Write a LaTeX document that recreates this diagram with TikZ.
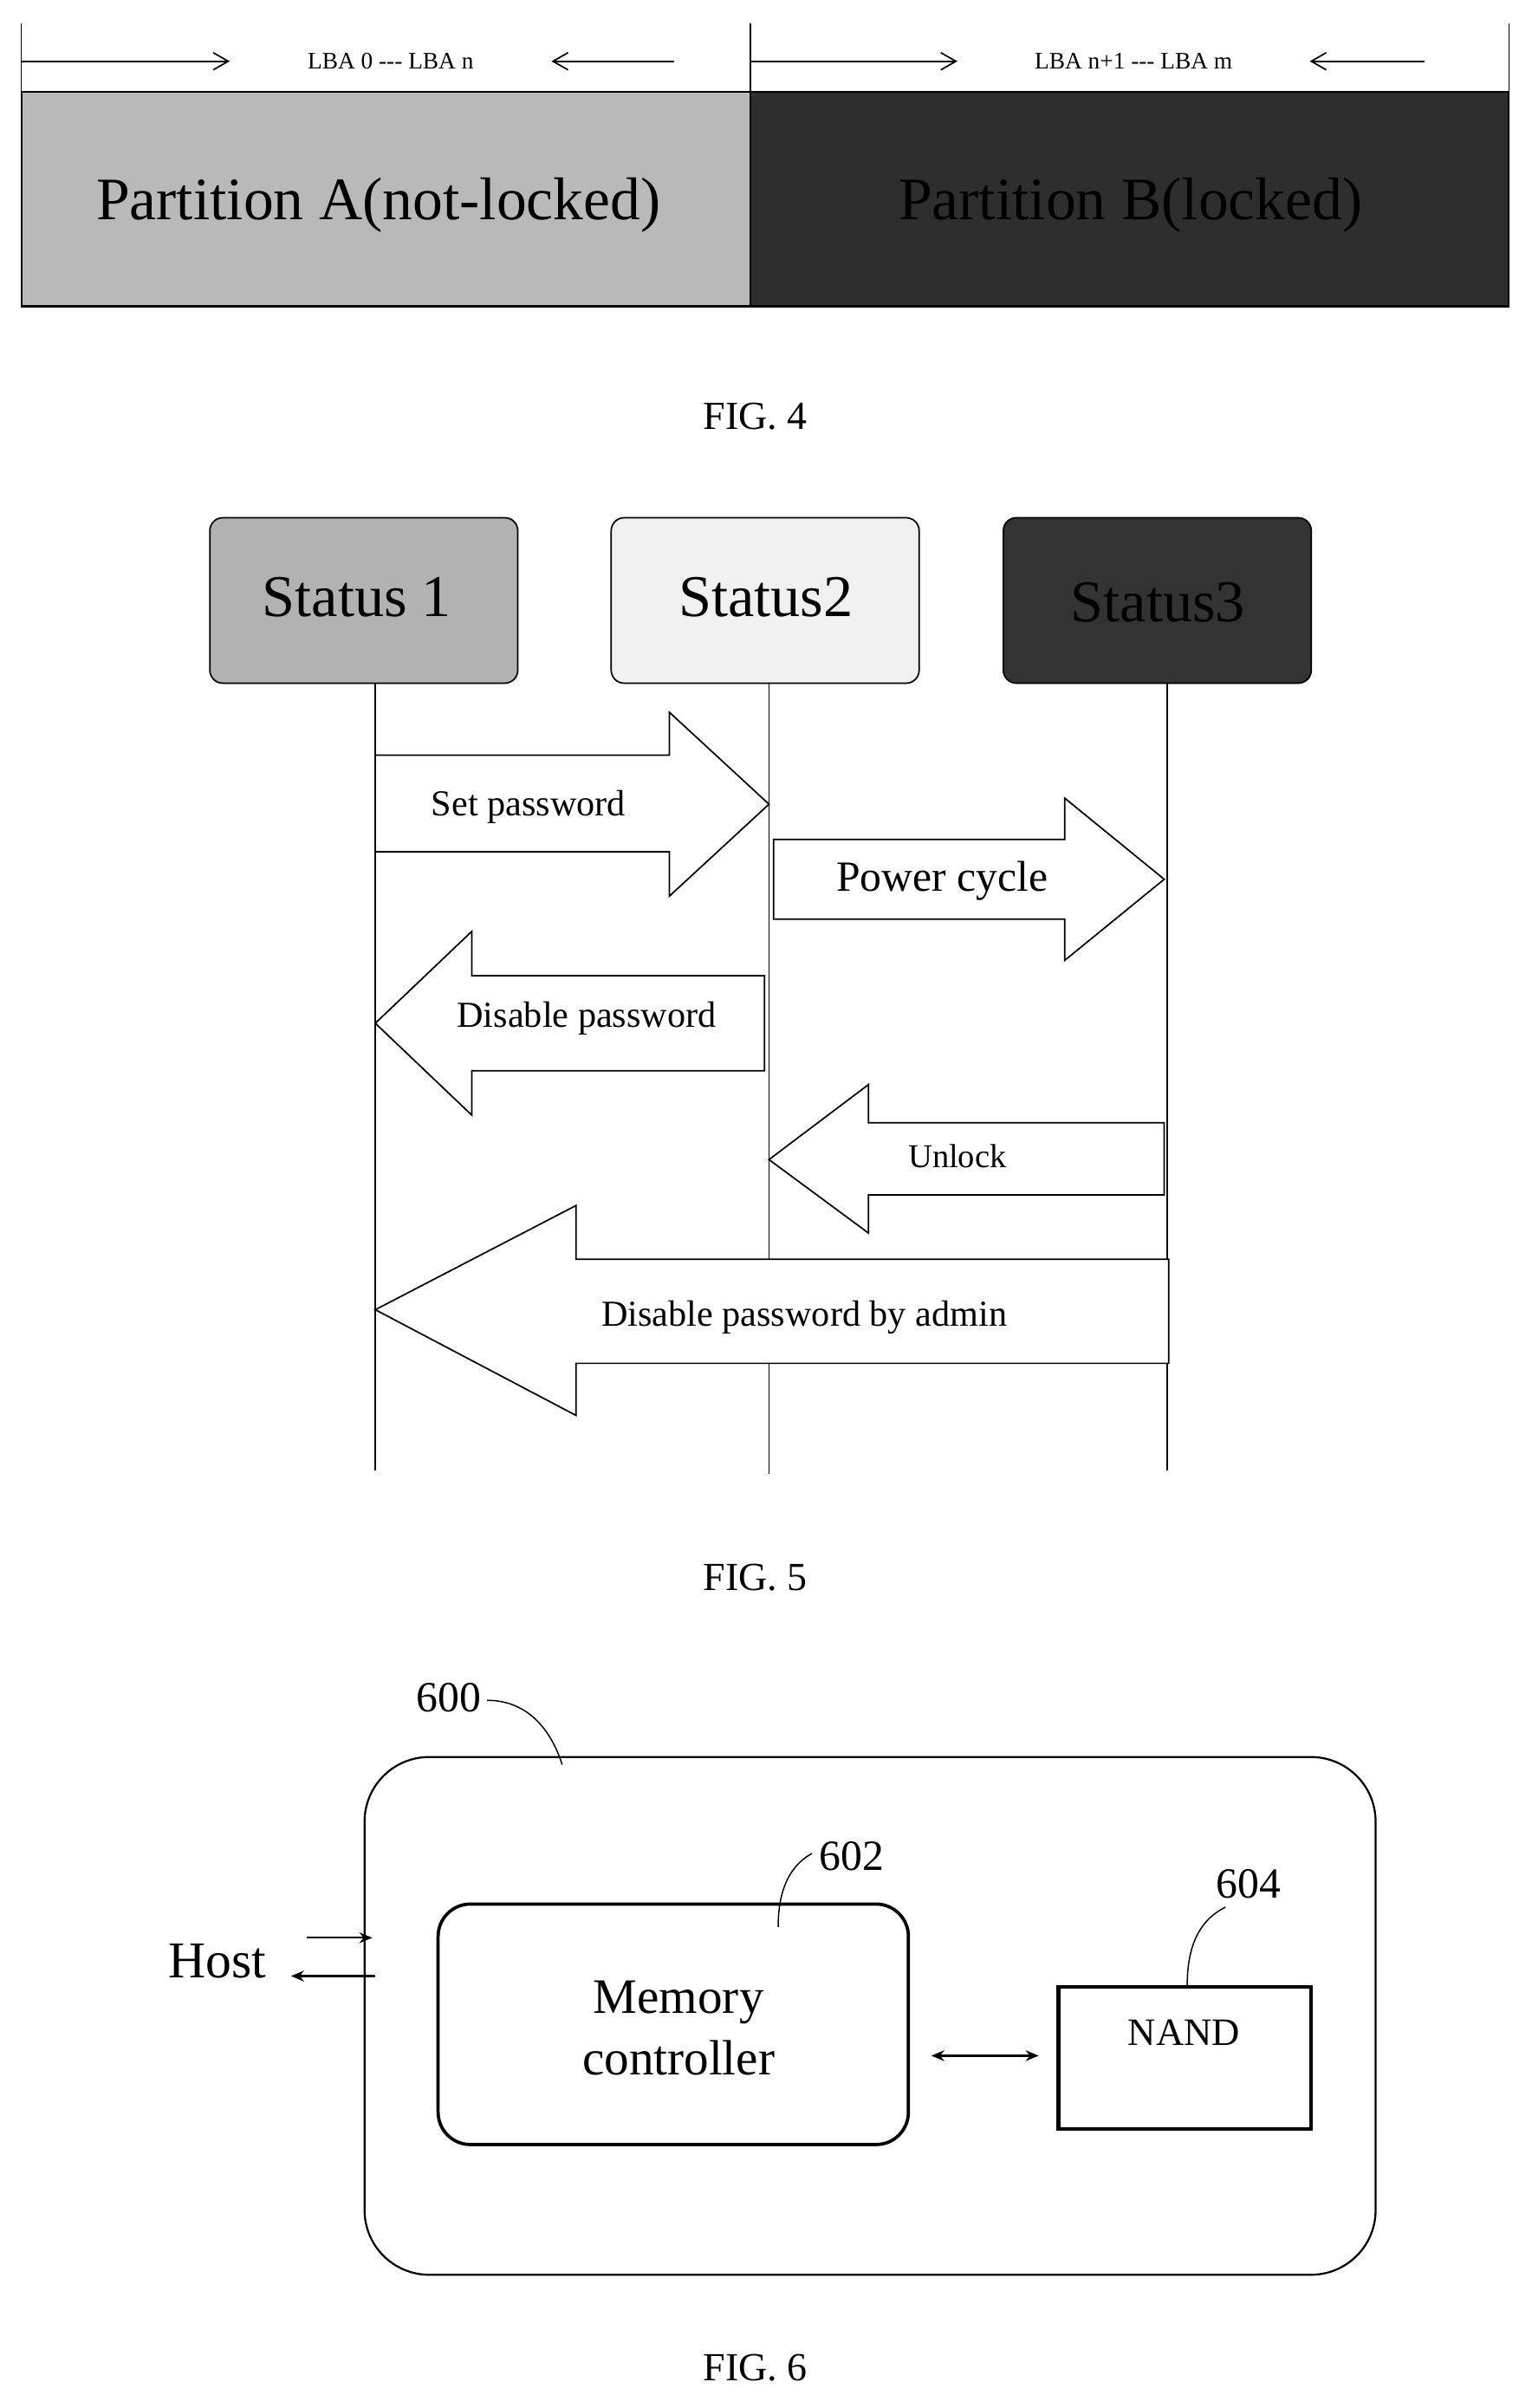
\documentclass[tikz,border=0pt]{standalone}
\usepackage{fontspec}
\setmainfont{Liberation Serif}
\usetikzlibrary{arrows.meta}
\begin{document}
\begin{tikzpicture}[x=0.05cm,y=-0.05cm,
  fs/.style={font=\fontsize{#1}{1.25\dimexpr#1pt\relax}\selectfont},
  thin/.style={line width=1.2pt},
  blk/.style={draw,line width=1.4pt,fill=white},
  sbox/.style={draw,line width=1.4pt,rounded corners=12pt},
  la/.style={-{Straight Barb[length=14pt,width=16pt]},line width=1.4pt}]
\useasboundingbox (0,0) rectangle (1000,1572);
% FIG 4
\fill[gray!55] (14,60) rectangle (490,200);
\fill[black!82] (490,60) rectangle (985,200);
\draw[line width=1.8pt] (14,60) rectangle (985,200) (490,60)--(490,200);
\foreach \x in {14,490,985} \draw[thin] (\x,15)--(\x,60);
\coordinate (a1) at (14,40); \coordinate (a2) at (150,40);
\coordinate (a3) at (440,40); \coordinate (a4) at (360,40);
\coordinate (b1) at (490,40); \coordinate (b2) at (625,40);
\coordinate (b3) at (930,40); \coordinate (b4) at (855,40);
\draw[la] (a1)--(a2); \draw[la] (a3)--(a4);
\draw[la] (b1)--(b2); \draw[la] (b3)--(b4);
\node[fs=22] (lba1) at (255,40) {LBA 0 -{}-{}- LBA n};
\node[fs=22] (lba2) at (740,40) {LBA n+1 -{}-{}- LBA m};
\node[fs=56] (pa) at (247,134) {Partition A(not-locked)};
\node[fs=56] (pb) at (738,134) {Partition B(locked)};
\node[fs=37] (f4) at (493,272) {FIG. 4};
% FIG 5
\draw[sbox,fill=gray!60] (137,338) rectangle (338,446);
\draw[sbox,fill=gray!12] (399,338) rectangle (600,446);
\draw[sbox,fill=black!80] (655,338) rectangle (856,446);
\node[fs=55] (s1) at (233,390) {Status 1};
\node[fs=55] (s2) at (500,390) {Status2};
\node[fs=55] (s3) at (756,393) {Status3};
\draw[thin] (245,446)--(245,960) (502,446)--(502,962) (762,446)--(762,960);
\draw[blk] (245,493)--(437,493)--(437,465)--(502,525)--(437,585)--(437,556)--(245,556)--cycle;
\draw[blk] (505,548)--(695,548)--(695,521)--(760,574)--(695,627)--(695,600)--(505,600)--cycle;
\draw[blk] (499,637)--(308,637)--(308,608)--(245,668)--(308,728)--(308,699)--(499,699)--cycle;
\draw[blk] (760,733)--(567,733)--(567,708)--(502,757)--(567,805)--(567,780)--(760,780)--cycle;
\draw[blk] (763,822)--(376,822)--(376,787)--(245,855)--(376,924)--(376,890)--(763,890)--cycle;
\node[fs=34] (t1) at (345,527) {Set password};
\node[fs=40] (t2) at (615,575) {Power cycle};
\node[fs=34] (t3) at (383,665) {Disable password};
\node[fs=31] (t4) at (625,755) {Unlock};
\node[fs=34] (t5) at (525,860) {Disable password by admin};
\node[fs=37] (f5) at (493,1030) {FIG. 5};
% FIG 6
\draw[line width=1.8pt,rounded corners=60pt] (238,1147) rectangle (898,1485);
\draw[line width=3pt,rounded corners=30pt] (286,1243) rectangle (593,1400);
\draw[line width=3.5pt] (691,1297) rectangle (856,1390);
\node[fs=46,align=center] (mc) at (443,1324) {Memory\\controller};
\node[fs=36] (nand) at (773,1327) {NAND};
\node[fs=40] (n600) at (293,1108) {600};
\node[fs=40] (n602) at (556,1212) {602};
\node[fs=40] (n604) at (815,1230) {604};
\draw[thin] (318,1110) .. controls (345,1110) and (360,1130) .. (367,1152);
\draw[thin] (530,1210) .. controls (512,1220) and (508,1240) .. (508,1258);
\draw[thin] (800,1245) .. controls (780,1255) and (775,1275) .. (775,1297);
\coordinate (d1) at (608,1342); \coordinate (d2) at (678,1342);
\draw[{Stealth[length=12pt,width=10pt]}-{Stealth[length=12pt,width=10pt]},line width=1.8pt] (d1)--(d2);
\node[fs=48] (host) at (142,1280) {Host};
\coordinate (h1) at (200,1265); \coordinate (h2) at (243,1265);
\coordinate (h3) at (245,1290); \coordinate (h4) at (190,1290);
\draw[-{Stealth[length=12pt,width=10pt]},line width=1.8pt] (h1)--(h2);
\draw[-{Stealth[length=12pt,width=10pt]},line width=1.8pt] (h3)--(h4);
\node[fs=37] (f6) at (493,1546) {FIG. 6};
\end{tikzpicture}
\end{document}
